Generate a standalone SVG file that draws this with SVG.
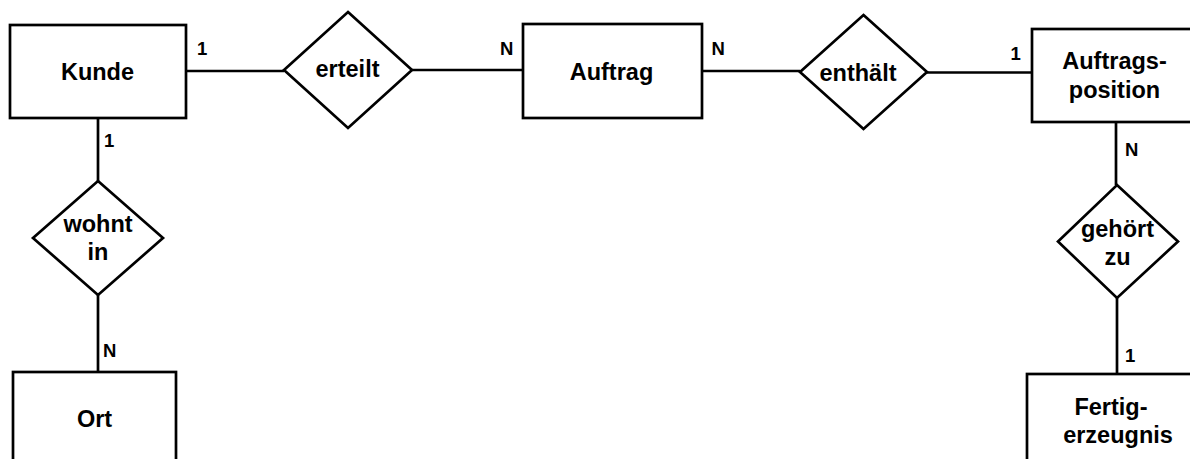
<svg xmlns="http://www.w3.org/2000/svg" width="1190" height="459" viewBox="0 0 1190 459">
<style>
.shape{fill:#fff;stroke:#000;stroke-width:2.7}
.conn{stroke:#000;stroke-width:2.7;fill:none}
.t{font-family:"Liberation Sans",Arial,sans-serif;font-weight:bold;font-size:23.5px;fill:#000;text-anchor:middle}
.l{font-family:"Liberation Sans",Arial,sans-serif;font-weight:bold;font-size:18.5px;fill:#000}
</style>
<rect width="1190" height="459" fill="#fff"/>
<g id="connectors">
<line class="conn" x1="186" y1="71" x2="284" y2="71"/>
<line class="conn" x1="412" y1="70" x2="523" y2="70"/>
<line class="conn" x1="702" y1="71" x2="800" y2="71"/>
<line class="conn" x1="927" y1="72.5" x2="1032" y2="72.5"/>
<line class="conn" x1="98" y1="118" x2="98" y2="181"/>
<line class="conn" x1="98" y1="295" x2="98" y2="372"/>
<line class="conn" x1="1116" y1="122" x2="1116" y2="185"/>
<line class="conn" x1="1117" y1="298" x2="1117" y2="374"/>
<text class="l" x="197" y="54.5">1</text>
<text class="l" x="500" y="55">N</text>
<text class="l" x="711.5" y="55">N</text>
<text class="l" x="1010.5" y="60">1</text>
<text class="l" x="104" y="147">1</text>
<text class="l" x="103" y="357">N</text>
<text class="l" x="1125" y="156">N</text>
<text class="l" x="1125" y="362">1</text>
</g>
<g id="kunde">
<rect class="shape" x="10" y="25" width="176" height="93"/>
<text class="t" x="97.5" y="79.5">Kunde</text>
</g>
<g id="erteilt">
<polygon class="shape" points="348,12 412,70 348,128 284,70"/>
<text class="t" x="347.5" y="77">erteilt</text>
</g>
<g id="auftrag">
<rect class="shape" x="523" y="24" width="179" height="94"/>
<text class="t" x="611.5" y="80">Auftrag</text>
</g>
<g id="enthaelt">
<polygon class="shape" points="863.5,15 927,72 863.5,129 800,72"/>
<text class="t" x="858" y="81">enthält</text>
</g>
<g id="auftragsposition">
<rect class="shape" x="1032" y="29" width="170" height="93"/>
<text class="t" x="1114.5" y="69">Auftrags-</text>
<text class="t" x="1114.5" y="97.5">position</text>
</g>
<g id="wohnt-in">
<polygon class="shape" points="98,181 163,238 98,295 33,238"/>
<text class="t" x="98" y="232">wohnt</text>
<text class="t" x="98" y="260">in</text>
</g>
<g id="gehoert-zu">
<polygon class="shape" points="1117,185 1178,241.5 1117,298 1058,241.5"/>
<text class="t" x="1117.5" y="237">gehört</text>
<text class="t" x="1117.5" y="265">zu</text>
</g>
<g id="ort">
<rect class="shape" x="13" y="372" width="163" height="100"/>
<text class="t" x="94.5" y="427">Ort</text>
</g>
<g id="fertigerzeugnis">
<rect class="shape" x="1027" y="374" width="175" height="100"/>
<text class="t" x="1111" y="415">Fertig-</text>
<text class="t" x="1118" y="443">erzeugnis</text>
</g>
</svg>
